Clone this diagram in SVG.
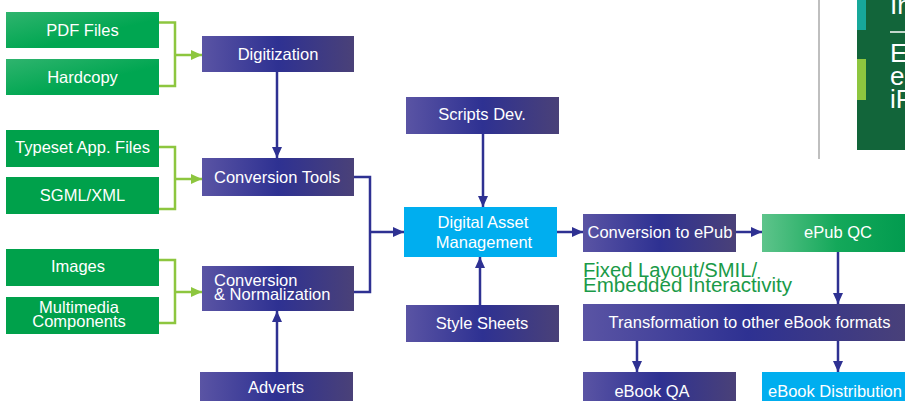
<svg xmlns="http://www.w3.org/2000/svg" width="905" height="401" viewBox="0 0 905 401">
<defs>
<linearGradient id="gP" x1="0" y1="0" x2="1" y2="0">
<stop offset="0" stop-color="#5A54A4"/>
<stop offset="0.5" stop-color="#2E3192"/>
<stop offset="1" stop-color="#4A4178"/>
</linearGradient>
<linearGradient id="gG" x1="0" y1="0" x2="1" y2="1">
<stop offset="0" stop-color="#2FB46E"/>
<stop offset="0.6" stop-color="#00A651"/>
</linearGradient>
<linearGradient id="gQ" x1="0" y1="0" x2="1" y2="0">
<stop offset="0" stop-color="#5EC48B"/>
<stop offset="0.5" stop-color="#14A85A"/>
<stop offset="1" stop-color="#009A4E"/>
</linearGradient>
<marker id="aB" markerWidth="12" markerHeight="12" refX="11" refY="6" orient="auto" markerUnits="userSpaceOnUse">
<path d="M0,1 L11,6 L0,11 Z" fill="#2E3192"/>
</marker>
<marker id="aG" markerWidth="12" markerHeight="12" refX="11" refY="6" orient="auto" markerUnits="userSpaceOnUse">
<path d="M0,1 L11,6 L0,11 Z" fill="#8DC63F"/>
</marker>
</defs>
<style>
.p{fill:url(#gP)}
.g{fill:#00A14B}
.c{fill:#00AEEF}
.t{font-family:"Liberation Sans",Arial,sans-serif;font-size:16.5px;fill:#FFFFFF}
.m{text-anchor:middle}
.lg{fill:none;stroke:#8DC63F;stroke-width:2.5}
.lb{fill:none;stroke:#2E3192;stroke-width:2.5}
.note{font-family:"Liberation Sans",Arial,sans-serif;font-size:19.5px;fill:#1A9A48}
.side{font-family:"Liberation Sans",Arial,sans-serif;font-size:26px;fill:#FFFFFF}
</style>
<rect width="905" height="401" fill="#FFFFFF"/>

<g id="side-panel">
<line x1="819" y1="0" x2="819" y2="159" stroke="#AAAAAA" stroke-width="1.5"/>
<rect x="857" y="0" width="48" height="150" fill="#12653A"/>
<rect x="857" y="0" width="9" height="30" fill="#17A89A"/>
<rect x="857" y="59" width="9" height="41" fill="#8DC63F"/>
<text class="side" x="890" y="14">In</text>
<line x1="890" y1="32" x2="905" y2="32" stroke="#FFFFFF" stroke-width="1.5"/>
<text class="side" x="890" y="62">E</text>
<text class="side" x="890" y="85">e</text>
<text class="side" x="890" y="108">iP</text>
</g>

<g id="connectors">
<path class="lg" d="M159,22.5 H175 V86 H159"/>
<path class="lg" d="M175,55 H202" marker-end="url(#aG)"/>
<path class="lg" d="M159,147 H175 V209 H159"/>
<path class="lg" d="M175,179 H202" marker-end="url(#aG)"/>
<path class="lg" d="M159,260 H175 V323 H159"/>
<path class="lg" d="M175,292 H202" marker-end="url(#aG)"/>
<path class="lb" d="M277,72 V158" marker-end="url(#aB)"/>
<path class="lb" d="M354,177 H370 V292 H354"/>
<path class="lb" d="M370,232 H404" marker-end="url(#aB)"/>
<path class="lb" d="M483,134 V207" marker-end="url(#aB)"/>
<path class="lb" d="M480,305 V257" marker-end="url(#aB)"/>
<path class="lb" d="M277,372 V311" marker-end="url(#aB)"/>
<path class="lb" d="M557,232 H583" marker-end="url(#aB)"/>
<path class="lb" d="M736,232 H762" marker-end="url(#aB)"/>
<path class="lb" d="M838,252 V304" marker-end="url(#aB)"/>
<path class="lb" d="M637,341 V372" marker-end="url(#aB)"/>
<path class="lb" d="M838,341 V372" marker-end="url(#aB)"/>
</g>

<g id="pdf-files"><rect x="6" y="12" width="153" height="36" fill="url(#gG)"/><text class="t m" x="82.5" y="36">PDF Files</text></g>
<g id="hardcopy"><rect x="6" y="59" width="153" height="36" fill="url(#gG)"/><text class="t m" x="82.5" y="83">Hardcopy</text></g>
<g id="typeset"><rect class="g" x="6" y="130" width="153" height="37"/><text class="t m" x="82.5" y="153">Typeset App. Files</text></g>
<g id="sgml"><rect class="g" x="6" y="177" width="153" height="37"/><text class="t m" x="82.5" y="201">SGML/XML</text></g>
<g id="images"><rect class="g" x="6" y="249" width="153" height="37"/><text class="t m" x="78" y="272">Images</text></g>
<g id="multimedia"><rect class="g" x="6" y="297" width="153" height="37"/><text class="t m" x="79" y="313">Multimedia</text><text class="t m" x="79" y="327">Components</text></g>

<g id="digitization"><rect class="p" x="202" y="36" width="152" height="36"/><text class="t m" x="278" y="60">Digitization</text></g>
<g id="conversion-tools"><rect class="p" x="202" y="158" width="152" height="38"/><text class="t" x="214" y="183">Conversion Tools</text></g>
<g id="conversion-normalization"><rect class="p" x="202" y="266" width="152" height="45"/><text class="t" x="214" y="286">Conversion</text><text class="t" x="214" y="300">&amp; Normalization</text></g>
<g id="adverts"><rect class="p" x="200" y="372" width="153" height="30"/><text class="t m" x="276" y="393">Adverts</text></g>

<g id="scripts-dev"><rect class="p" x="406" y="97" width="153" height="37"/><text class="t m" x="482" y="120">Scripts Dev.</text></g>
<g id="dam"><rect class="c" x="404" y="207" width="153" height="50"/><text class="t m" x="483" y="228">Digital Asset</text><text class="t m" x="484" y="248">Management</text></g>
<g id="style-sheets"><rect class="p" x="406" y="305" width="153" height="37"/><text class="t m" x="482" y="329">Style Sheets</text></g>

<g id="conversion-epub"><rect class="p" x="583" y="214" width="153" height="38"/><text class="t m" x="660" y="238">Conversion to ePub</text></g>
<g id="epub-qc"><rect x="762" y="214" width="150" height="38" fill="url(#gQ)"/><text class="t m" x="838" y="238">ePub QC</text></g>
<g id="fixed-layout-note"><text class="note" x="583" y="277" textLength="174" lengthAdjust="spacingAndGlyphs">Fixed Layout/SMIL/</text><text class="note" x="583" y="292" textLength="209" lengthAdjust="spacingAndGlyphs">Embedded  Interactivity</text></g>
<g id="transformation"><rect class="p" x="583" y="304" width="330" height="37"/><text class="t m" x="749.5" y="328">Transformation to other eBook formats</text></g>
<g id="ebook-qa"><rect class="p" x="583" y="372" width="153" height="30"/><text class="t m" x="652" y="397">eBook QA</text></g>
<g id="ebook-distribution"><rect class="c" x="762" y="372" width="150" height="30"/><text class="t" x="768" y="397">eBook Distribution</text></g>
</svg>
